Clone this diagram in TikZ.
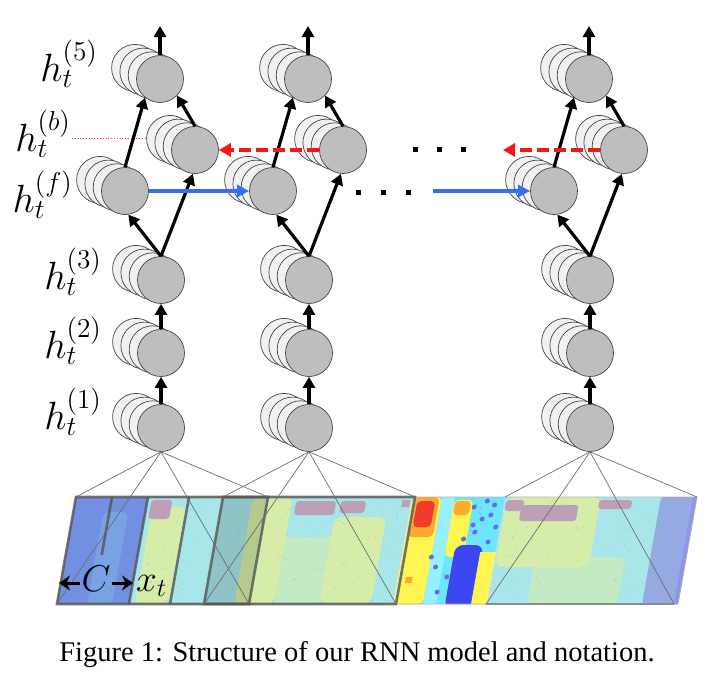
\RequirePackage{fix-cm}
\documentclass[tikz,border=0pt]{standalone}
\usepackage{fontspec}
\newfontfamily\capfont{Liberation Serif}
\usetikzlibrary{arrows.meta}
\definecolor{nodefront}{RGB}{190,190,190}
\definecolor{nodeback}{RGB}{241,241,241}
\definecolor{nodeline}{RGB}{70,70,70}
\definecolor{fwdblue}{RGB}{55,110,240}
\definecolor{bwdred}{RGB}{250,20,20}
\definecolor{fanline}{RGB}{110,110,110}
\definecolor{winline}{RGB}{85,85,85}
\definecolor{jcyan}{RGB}{110,230,250}
\definecolor{jlcyan}{RGB}{150,240,255}
\definecolor{jygreen}{RGB}{200,245,120}
\definecolor{jyellow}{RGB}{255,245,80}
\definecolor{jorange}{RGB}{250,170,50}
\definecolor{jred}{RGB}{240,60,40}
\definecolor{jblue}{RGB}{60,70,240}
\definecolor{jmblue}{RGB}{90,140,240}
\definecolor{jdblue}{RGB}{70,110,235}
\definecolor{jmauve}{RGB}{150,90,150}
\definecolor{ctint}{RGB}{80,120,225}
\definecolor{wash}{RGB}{228,230,218}
\newcommand\hnode[3]{%
  \foreach \k in {3,2,1}{\node[backc] (#1-b\k) at ({#2-8.3*\k},{#3-3.7*\k}) {};}
  \node[frontc] (#1) at (#2,#3) {};
}
\newcommand\biglab[1]{\scalebox{1.9}{$#1$}}
\newcommand\midlab[1]{\scalebox{1.8}{$#1$}}
\tikzset{
  frontc/.style={circle, draw=nodeline, line width=0.7pt, fill=nodefront, minimum size=47pt, inner sep=0pt},
  backc/.style={frontc, fill=nodeback},
  blk/.style={line width=3.2pt, black, -{Triangle[length=11pt,width=12pt]}},
  fwd/.style={line width=3.2pt, fwdblue, -{Triangle[length=12pt,width=12pt]}},
  bwd/.style={line width=3.4pt, bwdred, dash pattern=on 12pt off 5pt, -{Triangle[length=12pt,width=13pt]}},
  ell/.style={rectangle, fill=black, minimum size=5pt, inner sep=0pt},
  fan/.style={draw=fanline, line width=0.7pt},
  lab/.style={font=\fontsize{20.74}{24}\selectfont, inner sep=0pt},
  winb/.style={draw=winline, draw opacity=0.8, line width=2.6pt},
  dimarr/.style={line width=3pt, black, -{Stealth[length=11pt,width=15pt]}}
}
\begin{document}
\begin{tikzpicture}[x=1pt,y=-1pt]
\useasboundingbox (0,0) rectangle (722,680);

% red dotted guide
\coordinate (dotA) at (72,138);
\coordinate (dotB) at (160,138);
\draw[red!80, dotted, line width=0.8pt] (dotA) -- (dotB);

% nodes: columns A, B, C
\foreach \n/\c in {A/161, B/309, C/590}{
  \hnode{\n1}{\c}{428}
  \hnode{\n2}{\c}{353}
  \hnode{\n3}{\c}{280}
  \hnode{\n f}{\c-36}{191}
  \hnode{\n b}{\c+34}{150}
  \hnode{\n5}{\c-1}{79}
  \coordinate (\n top) at (\c-1,26);
}

% labels
\node[lab, anchor=east] (l5) at (98,64) {\biglab{h_t^{(5)}}};
\node[lab, anchor=east] (lb) at (71,134) {\biglab{h_t^{(b)}}};
\node[lab, anchor=east] (lf) at (73,195) {\biglab{h_t^{(f)}}};
\node[lab, anchor=east] (l3) at (102,272) {\biglab{h_t^{(3)}}};
\node[lab, anchor=east] (l2) at (102,341) {\biglab{h_t^{(2)}}};
\node[lab, anchor=east] (l1) at (102,412) {\biglab{h_t^{(1)}}};

% spectrogram
\begin{scope}[shift={(76,497)}, xslant=0.1776]
  \begin{scope}
    \clip (0,0) rectangle (621,107);
    \fill[jcyan] (0,0) rectangle (621,107);
    % window 1 area
    \fill[jdblue] (0,0) rectangle (72,107);
    \fill[jcyan, opacity=0.6, rounded corners=6pt] (30,15) rectangle (55,107);
    \fill[jygreen, rounded corners=6pt] (78,10) rectangle (112,107);
    % window 2 area
    \fill[jygreen, rounded corners=8pt] (177,0) rectangle (217,107);
    \fill[jygreen, opacity=0.6] (217,40) rectangle (262,107);
    \fill[jygreen, rounded corners=8pt] (262,20) rectangle (314,107);
    % window 3 area
    \fill[jygreen, rounded corners=8pt] (431,0) rectangle (525,70);
    \fill[jygreen, opacity=0.6, rounded corners=8pt] (470,60) rectangle (560,107);
    \fill[jdblue, rounded corners=10pt] (585,-5) rectangle (630,112);
    \fill[jblue] (617,0) rectangle (621,107);
    % texture speckles
    \pgfmathsetseed{7}
    \foreach \i in {1,...,300}{
      \pgfmathsetmacro\uu{rnd*621}
      \pgfmathsetmacro\vv{rnd*107}
      \fill[jmblue, opacity=0.4] (\uu,\vv) circle (1.0);
    }
    % mauve streaks at top (under the wash)
    \fill[jmauve, rounded corners=3pt] (76,3) rectangle (97,22);
    \fill[jmauve, rounded corners=3pt] (221,4) rectangle (261,18);
    \fill[jmauve, rounded corners=3pt] (266,4) rectangle (291,16);
    \fill[jmauve] (327,3) rectangle (335,10);
    \fill[jmauve, rounded corners=3pt] (431,3) rectangle (449,14);
    \fill[jmauve, rounded corners=3pt] (447,8) rectangle (504,24);
    \fill[jmauve, rounded corners=3pt] (524,3) rectangle (557,12);
    % vivid section
    \fill[jyellow, rounded corners=5pt] (336,0) rectangle (366,107);
    \fill[jorange, rounded corners=5pt] (338,0) rectangle (364,40);
    \fill[jred, rounded corners=4pt] (342,4) rectangle (360,30);
    \fill[jorange] (344,80) rectangle (351,86);
    \fill[jlcyan] (366,0) rectangle (379,107);
    \fill[jyellow, rounded corners=5pt] (379,3) rectangle (398,60);
    \fill[jorange, rounded corners=4pt] (380,4) rectangle (396,18);
    \fill[jblue, rounded corners=8pt] (388,48) rectangle (416,112);
    \fill[jyellow] (414,55) rectangle (430,107);
    \foreach \p in {(400,10),(410,22),(420,8),(405,35),(425,30),(395,42),(372,70),(378,95),(366,60),(385,80),(420,45),(412,4),(402,28),(418,18)}
      \fill[jblue!80] \p circle (2.5);
    % washes
    \fill[wash, opacity=0.5] (0,0) rectangle (340,107);
    \fill[wash, opacity=0.5] (429,0) rectangle (621,107);
    \fill[ctint, opacity=0.5] (0,0) rectangle (72,107);
    \fill[black, opacity=0.15] (147,0) rectangle (192,107);
  \end{scope}
  \draw[black!30, line width=0.8pt] (0,0) rectangle (621,107);
  \draw[black!45, line width=1.2pt] (429,107) -- (617,107);
  \draw[winb] (0,0) rectangle (192,107);
  \draw[winb] (147,0) rectangle (339,107);
  \draw[winb] (36,0) -- (36,58);
  \draw[winb] (72,0) -- (72,107);
  \draw[winb] (113,0) -- (113,107);
  \coordinate (w1tl) at (0,0);   \coordinate (w1tr) at (192,0);
  \coordinate (w1bl) at (0,107); \coordinate (w1br) at (192,107);
  \coordinate (w2tl) at (147,0);   \coordinate (w2tr) at (339,0);
  \coordinate (w2bl) at (147,107); \coordinate (w2br) at (339,107);
  \coordinate (w3tl) at (429,0);   \coordinate (w3tr) at (621,0);
  \coordinate (w3bl) at (429,107); \coordinate (w3br) at (617,107);
\end{scope}

% fan lines
\draw[fan] (w1tl) -- (A1.south) -- (w1tr);
\draw[fan] (w1bl) -- (A1.south) -- (w1br);
\draw[fan] (w2tl) -- (B1.south) -- (w2tr);
\draw[fan] (w2bl) -- (B1.south) -- (w2br);
\draw[fan] (w3tl) -- (C1.south) -- (w3tr);
\draw[fan] (w3bl) -- (C1.south) -- (w3br);

% C and x_t
\node[lab, inner sep=1pt, anchor=base] (lC) at (96,591) {\midlab{C}};
\node[lab, anchor=base west] (lx) at (136,591) {\midlab{x_t}};
\coordinate (cL) at (59,583);
\coordinate (cR) at (133,583);
\draw[dimarr] (lC.west |- cL) -- (cL);
\draw[dimarr] (lC.east |- cR) -- (cR);

% vertical arrows in each column
\foreach \n in {A,B,C}{
  \draw[blk] (\n1.north) -- (\n2.south);
  \draw[blk] (\n2.north) -- (\n3.south);
  \draw[blk] (\n3.north) -- (\n f.-82);
  \draw[blk] (\n3.north) -- (\n b.-95);
  \draw[blk] (\n f.north) -- (\n5.-129);
  \draw[blk] (\n b.north) -- (\n5.-44);
  \draw[blk] (\n5.north) -- (\n top);
}

% recurrent connections
\coordinate (fdots) at (433,191);
\coordinate (bdots) at (503,150);
\draw[fwd] (Af.east) -- (Bf.west);
\draw[fwd] (fdots) -- (Cf.west);
\draw[bwd] (Bb.west) -- (Ab.east);
\draw[bwd] (Cb.west) -- (bdots);
\node[ell] (fd1) at (358,192) {};
\node[ell] (fd2) at (383,192) {};
\node[ell] (fd3) at (408,192) {};
\node[ell] (bd1) at (415,149) {};
\node[ell] (bd2) at (439,149) {};
\node[ell] (bd3) at (463,149) {};

% caption
\node[font=\capfont\fontsize{28.5}{34}\selectfont, anchor=base, inner sep=0pt] (cap) at (357,661) {Figure 1: Structure of our RNN model and notation.};
\end{tikzpicture}
\end{document}
